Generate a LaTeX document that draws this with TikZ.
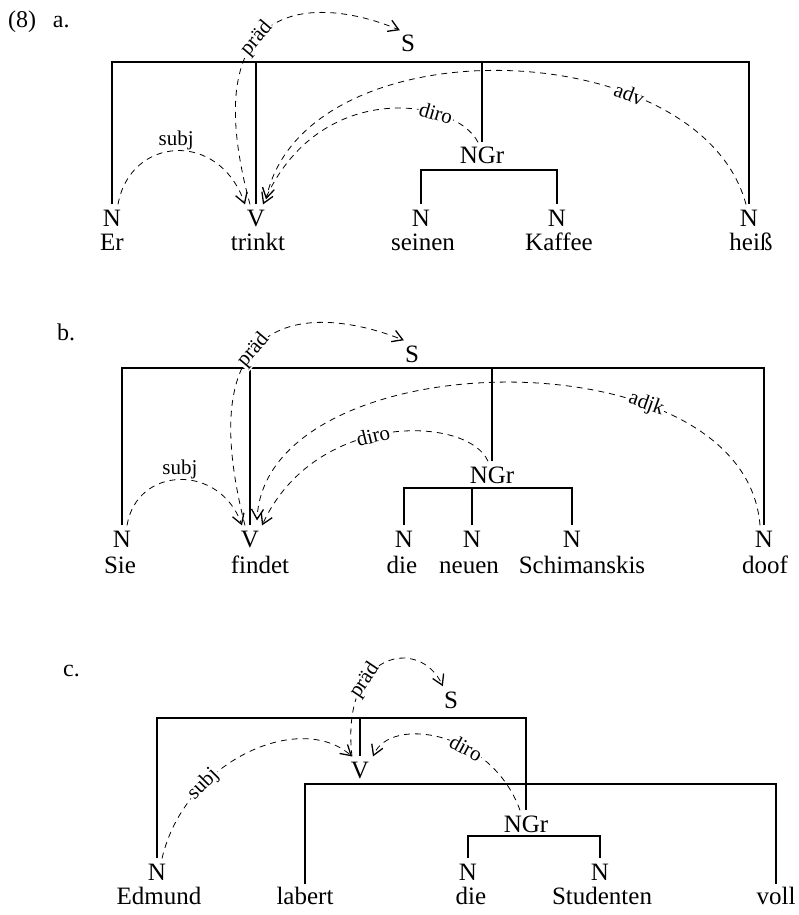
\documentclass[tikz,border=0pt]{standalone}
\usepackage{fontspec}
\setmainfont{Liberation Serif}
\usetikzlibrary{arrows.meta}

\begin{document}
\begin{tikzpicture}[x=1pt,y=-1pt,
  cat/.style={anchor=base,inner xsep=1pt,inner ysep=5pt,font=\fontsize{25}{30}\selectfont},
  wrd/.style={anchor=base,inner sep=2pt,font=\fontsize{25}{30}\selectfont},
  ex/.style={anchor=base west,inner sep=0pt,font=\fontsize{24}{28}\selectfont},
  tree/.style={line width=1.1pt},
  dep/.style={line width=0.8pt,dash pattern=on 6pt off 5pt,-{Straight Barb[length=10pt,width=12pt,line width=1.3pt]}},
  deplbl/.style={inner sep=1pt,font=\fontsize{21}{24}\selectfont},
  onarc/.style={deplbl,sloped,fill=white}]
\path[use as bounding box] (0,0) rectangle (799,915);
% (8) a.
\node[ex] (aEx) at (8,28) {(8)\hspace{0.7em}a.};
\coordinate (aTop) at (0,62);
\coordinate (aNP) at (0,170);
\node[cat] (aS) at (408,52) {S};
\node[cat] (aEr) at (112,226) {N};
\node[cat] (aTrinkt) at (256,226) {V};
\node[cat] (aNGr) at (482,164) {NGr};
\node[cat] (aSeinen) at (421,226) {N};
\node[cat] (aKaffee) at (557,226) {N};
\node[cat] (aHeiss) at (749,226) {N};
\node[wrd] (aErW) at (112,250) {Er};
\node[wrd] (aTrinktW) at (258,250) {trinkt};
\node[wrd] (aSeinenW) at (423,250) {seinen};
\node[wrd] (aKaffeeW) at (559,250) {Kaffee};
\node[wrd] (aHeissW) at (751,250) {heiß};
\draw[tree] (aEr.north) |- (aHeiss |- aTop) -- (aHeiss.north);
\draw[tree] (aTrinkt.north) -- (aTrinkt |- aTop);
\draw[tree] (aNGr.north) -- (aNGr |- aTop);
\draw[tree] (aSeinen.north) |- (aKaffee |- aNP) -- (aKaffee.north);
\draw[dep] ([xshift=6pt]aEr.north) .. controls +(12,-68) and +(-26,-75) .. ([xshift=-11pt]aTrinkt.north)
  node[deplbl,pos=0.5,anchor=base,yshift=5pt] {subj};
\draw[dep] ([xshift=-6pt]aTrinkt.north) .. controls +(-60,-222) and +(-70,-30) .. (aS.north west)
  node[onarc,pos=0.4] {präd};
\draw[dep] ([xshift=-4pt]aNGr.north) .. controls +(-23,-45) and +(54,-126) .. ([xshift=7pt]aTrinkt.north)
  node[onarc,pos=0.28] {diro};
\draw[dep] ([xshift=-3pt]aHeiss.north) .. controls +(-46,-172) and +(39,-178) .. ([xshift=10pt,yshift=5pt]aTrinkt.north)
  node[onarc,pos=0.3] {adv};
% b.
\node[ex] (bEx) at (57,340) {b.};
\coordinate (bTop) at (0,368);
\coordinate (bNP) at (0,488);
\node[cat] (bS) at (412,362) {S};
\node[cat] (bSie) at (122,547) {N};
\node[cat] (bFindet) at (250,547) {V};
\node[cat] (bNGr) at (492,483) {NGr};
\node[cat] (bDie) at (404,547) {N};
\node[cat] (bNeuen) at (472,547) {N};
\node[cat] (bSchim) at (572,547) {N};
\node[cat] (bDoof) at (764,547) {N};
\node[wrd] (bSieW) at (120,573) {Sie};
\node[wrd] (bFindetW) at (260,573) {findet};
\node[wrd] (bDieW) at (402,573) {die};
\node[wrd] (bNeuenW) at (469,573) {neuen};
\node[wrd] (bSchimW) at (582,573) {Schimanskis};
\node[wrd] (bDoofW) at (765,573) {doof};
\draw[tree] (bSie.north) |- (bDoof |- bTop) -- (bDoof.north);
\draw[tree] (bFindet.north) -- (bFindet |- bTop);
\draw[tree] (bNGr.north) -- (bNGr |- bTop);
\draw[tree] (bDie.north) |- (bSchim |- bNP) -- (bSchim.north);
\draw[tree] (bNeuen.north) -- (bNeuen |- bNP);
\draw[dep] ([xshift=5pt]bSie.north) .. controls +(10,-60) and +(-22,-62) .. ([xshift=-8pt]bFindet.north)
  node[deplbl,pos=0.5,anchor=base,yshift=5pt] {subj};
\draw[dep] ([xshift=-5pt]bFindet.north) .. controls +(-60,-235) and +(-75,-30) .. (bS.north west)
  node[onarc,pos=0.4] {präd};
\draw[dep] ([xshift=-4pt]bNGr.north) .. controls +(-20,-46) and +(53,-115) .. ([xshift=12pt]bFindet.north)
  node[onarc,pos=0.55] {diro};
\draw[dep] ([xshift=-4pt]bDoof.north) .. controls +(-15,-195) and +(8,-180) .. ([xshift=7pt,yshift=5pt]bFindet.north)
  node[onarc,pos=0.3] {adjk};
% c.
\node[ex] (cEx) at (63,676) {c.};
\coordinate (cTop) at (0,718);
\coordinate (cVbar) at (0,784);
\coordinate (cNP) at (0,836);
\node[cat] (cS) at (451,708) {S};
\node[cat] (cV) at (360,778) {V};
\node[cat] (cNGr) at (526,832) {NGr};
\node[cat] (cEdmund) at (157,880) {N};
\node[cat] (cDie) at (468,880) {N};
\node[cat] (cStud) at (600,880) {N};
\node[wrd] (cEdmundW) at (159,904) {Edmund};
\node[wrd] (cLabert) at (305,904) {labert};
\node[wrd] (cDieW) at (471,904) {die};
\node[wrd] (cStudW) at (602,904) {Studenten};
\node[wrd] (cVoll) at (776,904) {voll};
\draw[tree] (cEdmund.north) |- (cNGr |- cTop) -- (cNGr.north);
\draw[tree] (cV.north) -- (cV |- cTop);
\draw[tree] (cLabert.north) |- (cVoll |- cVbar) -- (cVoll.north);
\draw[tree] (cDie.north) |- (cStud |- cNP) -- (cStud.north);
\draw[dep] ([xshift=5pt]cEdmund.north) .. controls +(23,-98) and +(-52,-46) .. ([xshift=-8pt]cV.north)
  node[onarc,pos=0.3] {subj};
\draw[dep] ([xshift=-8pt]cV.north) .. controls +(-12,-106) and +(-23,-50) .. (cS.north west)
  node[onarc,pos=0.33] {präd};
\draw[dep] ([xshift=-6pt]cNGr.north) .. controls +(-29,-80) and +(17,-41) .. ([xshift=13pt]cV.north)
  node[onarc,pos=0.37] {diro};
\end{tikzpicture}
\end{document}
